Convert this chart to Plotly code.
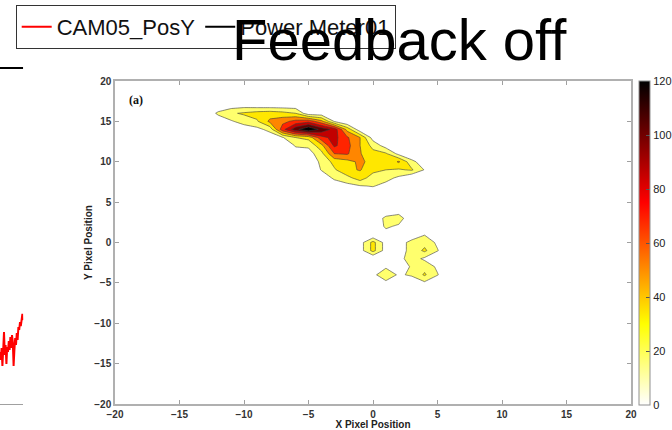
import numpy as np
import plotly.graph_objects as go

# ---------------- data ----------------
# contour intensity grid; everything else is 0
grid_x = list(range(-20, 21))
grid_y = list(range(-20, 21))

ridge_x0 = -14          # ridge rows cover x = -14 .. 6
ridge_y = [17, 16, 15, 14, 13, 12, 11, 10, 9, 8, 7, 6]
ridge_vals = [
    [0, 0, 3, 6, 8, 6, 5, 5, 5, 0, 0, 0, 0, 0, 0, 0, 0, 0, 0, 0, 0],
    [0, 3, 18, 28, 32, 36, 38, 35, 30, 5, 5, 0, 0, 0, 0, 0, 0, 0, 0, 0, 0],
    [0, 0, 5, 13, 22, 28, 48, 55, 65, 70, 50, 14, 0, 0, 0, 0, 0, 0, 0, 0, 0],
    [0, 0, 0, 0, 5, 10, 20, 70, 100, 120, 100, 85, 40, 5, 0, 0, 0, 0, 0, 0, 0],
    [0, 0, 0, 0, 0, 0, 5, 14, 30, 35, 70, 80, 62, 45, 8, 0, 0, 0, 0, 0, 0],
    [0, 0, 0, 0, 0, 0, 0, 5, 16, 18, 40, 78, 65, 45, 25, 8, 0, 0, 0, 0, 0],
    [0, 0, 0, 0, 0, 0, 0, 0, 10, 8, 25, 60, 62, 46, 35, 32, 10, 0, 0, 0, 0],
    [0, 0, 0, 0, 0, 0, 0, 0, 0, 5, 18, 35, 40, 48, 40, 32, 47, 20, 5, 0, 0],
    [0, 0, 0, 0, 0, 0, 0, 0, 0, 0, 16, 28, 42, 46, 35, 30, 28, 32, 14, 0, 0],
    [0, 0, 0, 0, 0, 0, 0, 0, 0, 0, 4, 18, 25, 38, 22, 20, 12, 0, 0, 0, 0],
    [0, 0, 0, 0, 0, 0, 0, 0, 0, 0, 0, 5, 10, 14, 16, 10, 0, 0, 0, 0, 0],
    [0, 0, 0, 0, 0, 0, 0, 0, 0, 0, 0, 0, 0, 0, 5, 0, 0, 0, 0, 0, 0],
]

blob_x0 = -2            # blob rows cover x = -2 .. 6
blob_y = [4, 3, 2, 1, 0, -1, -2, -3, -4, -5]
blob_vals = [
    [0, 0, 0, 0, 5, 0, 0, 0, 0],
    [0, 0, 0, 20, 24, 0, 0, 0, 0],
    [0, 0, 0, 18, 12, 0, 0, 0, 0],
    [0, 0, 0, 8, 0, 0, 14, 0, 0],
    [0, 8, 35, 8, 5, 22, 25, 12, 0],
    [0, 8, 35, 8, 8, 20, 33, 16, 0],
    [0, 0, 0, 0, 10, 22, 12, 0, 0],
    [0, 0, 0, 12, 0, 18, 25, 12, 0],
    [0, 0, 10, 28, 12, 18, 32, 16, 0],
    [0, 0, 0, 10, 14, 0, 12, 0, 0],
]

# left cropped time-series fragment
frag_t = [0.0, 0.8, 1.6, 2.4, 3.2, 4.0, 4.8, 5.6, 6.4, 7.2, 8.0, 8.8, 9.6, 10.4, 11.2,
          12.0, 12.8, 13.6, 14.4, 15.2, 16.0, 16.8, 17.6, 18.4, 19.2, 20.0, 20.8,
          21.6, 22.4, 23.2]
cam05_posy = [60, 52, 64, 46, 62, 80, 57, 67, 48, 65, 60, 71, 62, 75, 64, 77, 70, 46,
              62, 74, 67, 79, 72, 85, 82, 90, 86, 94, 98, 92]
power_meter01 = [344] * len(frag_t)

x_ticks = [-20, -15, -10, -5, 0, 5, 10, 15, 20]
y_ticks = [-20, -15, -10, -5, 0, 5, 10, 15, 20]
cbar_ticks = [0, 20, 40, 60, 80, 100, 120]

# ---------------- build grid ----------------
Z = np.zeros((len(grid_y), len(grid_x)))
for yy, row in zip(ridge_y, ridge_vals):
    for i, v in enumerate(row):
        Z[grid_y.index(yy), grid_x.index(ridge_x0 + i)] = v
for yy, row in zip(blob_y, blob_vals):
    for i, v in enumerate(row):
        Z[grid_y.index(yy), grid_x.index(blob_x0 + i)] = v

hot_r = [[0.0, "#ffffff"], [0.25, "#ffff00"], [0.625, "#ff0000"], [1.0, "#000000"]]

W, H = 672, 430
def px(x): return x / W
def py(y): return 1 - y / H

fig = go.Figure()

fig.add_trace(go.Contour(
    x=grid_x, y=grid_y, z=Z,
    colorscale=hot_r, zmin=0, zmax=120,
    contours=dict(start=15, end=105, size=15, coloring="fill", showlines=True),
    line=dict(color="#3a3a3a", width=0.6, smoothing=0),
    showscale=False, showlegend=False, hoverinfo="skip",
    xaxis="x", yaxis="y",
))

# colorbar (smooth gradient) via an invisible scatter
fig.add_trace(go.Scatter(
    x=[-100, -100], y=[-100, -100], mode="markers",
    marker=dict(color=[0, 120], cmin=0, cmax=120, colorscale=hot_r, size=1,
                showscale=True,
                colorbar=dict(x=px(639), xanchor="left", y=py(405), yanchor="bottom",
                              len=324 / H, lenmode="fraction", thickness=11,
                              thicknessmode="pixels", outlinecolor="#909090",
                              outlinewidth=1, tickvals=cbar_ticks, ticks="inside",
                              ticklen=4, tickcolor="#555",
                              tickfont=dict(family="Liberation Sans", size=11, color="#222"),
                              xpad=0, ypad=0)),
    showlegend=False, hoverinfo="skip", xaxis="x", yaxis="y",
))

fig.add_trace(go.Scatter(
    x=frag_t, y=cam05_posy, mode="lines", name="CAM05_PosY",
    line=dict(color="#ff0000", width=2), xaxis="x2", yaxis="y2",
))
fig.add_trace(go.Scatter(
    x=frag_t, y=power_meter01, mode="lines", name="Power Meter01",
    line=dict(color="#000000", width=2), xaxis="x2", yaxis="y2",
))

tick_font = dict(family="Liberation Sans", size=10, color="#333", weight="bold")
fig.update_layout(
    width=W, height=H, margin=dict(l=0, r=0, t=0, b=0, autoexpand=False),
    paper_bgcolor="white", plot_bgcolor="white",
    xaxis=dict(domain=[px(115), px(631)], range=[-20, 20], tickvals=x_ticks,
               showline=True, linecolor="#b0b0b0", linewidth=1.5, mirror="ticks",
               ticks="inside", ticklen=4, tickcolor="#a0a0a0", showgrid=False,
               zeroline=False, tickfont=tick_font,
               title=dict(text="<b>X Pixel Position</b>", standoff=0,
                          font=dict(family="Liberation Sans", size=10, color="#222"))),
    yaxis=dict(domain=[py(404), py(81)], range=[-20, 20], tickvals=y_ticks,
               showline=True, linecolor="#b0b0b0", linewidth=1.5, mirror="ticks",
               ticks="inside", ticklen=4, tickcolor="#a0a0a0", showgrid=False,
               zeroline=False, tickfont=tick_font,
               title=dict(text="<b>Y Pixel Position</b>", standoff=0,
                          font=dict(family="Liberation Sans", size=10, color="#222"))),
    xaxis2=dict(domain=[0, px(23.2)], range=[0, 23.2], showline=True, linecolor="#a0a0a0",
                linewidth=1, showticklabels=False, ticks="", showgrid=False, zeroline=False),
    yaxis2=dict(domain=[py(412), py(60)], range=[0, 352], anchor="x2", showline=False,
                showticklabels=False, ticks="", showgrid=False, zeroline=False),
    legend=dict(orientation="h", x=px(15.7), y=py(5), xanchor="left", yanchor="top",
                bgcolor="white", bordercolor="#333", borderwidth=1,
                font=dict(family="Liberation Sans", size=22, color="#111")),
    annotations=[
        dict(text="<b>(a)</b>", x=-18.4, y=17.7, xref="x", yref="y", showarrow=False,
             font=dict(family="Liberation Serif", size=12, color="#111")),
        dict(text="Feedback off", x=px(399), y=py(39), xref="paper", yref="paper",
             showarrow=False, xanchor="center", yanchor="middle",
             font=dict(family="Liberation Sans", size=58, color="#000")),
    ],
)

fig.write_html("out.html")
